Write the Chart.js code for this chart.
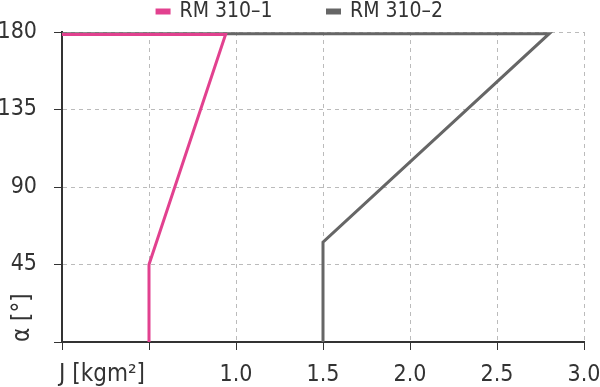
<!DOCTYPE html>
<html>
<head>
<meta charset="utf-8">
<script src="https://cdn.jsdelivr.net/npm/chart.js@4"></script>
<style>
  html, body { margin: 0; padding: 0; background: #fff; }
  #wrap { width: 600px; height: 387px; }
</style>
</head>
<body>
<div id="wrap"><canvas id="myChart" width="600" height="387"></canvas></div>
<script>
// series values: J [kgm²] vs α [°]
const seriesNames = ["RM 310–1", "RM 310–2"];
const rm1J = [0.5, 0.5, 0.94, 0];
const rm1Alpha = [0, 45, 178.5, 178.5];
const rm2J = [1.5, 1.5, 2.8, 0];
const rm2Alpha = [0, 58, 179, 179];

// axis ticks
const xTicks = [0, 0.5, 1.0, 1.5, 2.0, 2.5, 3.0];
const yTicks = [0, 45, 90, 135, 180];
const xTitle = "J [kgm²]";
const yTitle = "α [°]";

const pink = "#e2418f";
const gray = "#666666";
const font = "'Liberation Sans Narrow', 'DejaVu Sans Condensed', sans-serif";

const toPoints = (xs, ys) => xs.map((x, i) => ({ x: x, y: ys[i] }));

// draws the two axis titles where the first tick labels would be
const axisTitles = {
  id: "axisTitles",
  afterDraw(chart) {
    const ctx = chart.ctx;
    const xs = chart.scales.x;
    const ys = chart.scales.y;
    ctx.save();
    ctx.fillStyle = "#333";
    ctx.font = "24px " + font;
    ctx.textAlign = "center";
    ctx.textBaseline = "middle";
    ctx.fillText(xTitle, xs.getPixelForValue(0.23), 375);
    ctx.translate(23, ys.getPixelForValue(0));
    ctx.rotate(-Math.PI / 2);
    ctx.textAlign = "left";
    ctx.fillText(yTitle, 0, 0);
    ctx.restore();
  },
};

const ctx = document.getElementById("myChart").getContext("2d");
const myChart = new Chart(ctx, {
  type: "scatter",
  data: {
    datasets: [
      {
        label: seriesNames[0],
        data: toPoints(rm1J, rm1Alpha),
        borderColor: pink,
        backgroundColor: pink,
      },
      {
        label: seriesNames[1],
        data: toPoints(rm2J, rm2Alpha),
        borderColor: gray,
        backgroundColor: gray,
      },
    ],
  },
  options: {
    responsive: false,
    animation: false,
    // legend padding is wide for the item gap, so pull it up
    layout: { padding: { top: -54, left: 0, right: 0, bottom: 0 } },
    elements: {
      point: { radius: 0, hoverRadius: 0 },
      line: { borderWidth: 3, borderJoinStyle: "miter", tension: 0 },
    },
    datasets: { scatter: { showLine: true, clip: false } },
    plugins: {
      tooltip: { enabled: false },
      legend: {
        position: "top",
        labels: {
          boxWidth: 12,
          boxHeight: 3,
          padding: 55,
          color: "#333",
          font: { family: font, size: 21 },
        },
      },
    },
    scales: {
      x: {
        type: "linear",
        min: 0,
        max: 3,
        afterBuildTicks: (scale) => {
          scale.ticks = xTicks.map((v) => ({ value: v }));
        },
        afterFit: (scale) => {
          scale.height = 45;
          scale.paddingRight = 16;
        },
        ticks: {
          color: "#333",
          padding: 11,
          maxRotation: 0,
          font: { family: font, size: 23 },
          callback: (v) => (v < 0.75 ? "" : v.toFixed(1)),
        },
        grid: {
          color: "#bbbbbb",
          tickColor: "#333",
          tickLength: 8,
          tickBorderDash: [],
        },
        border: { color: "#333", width: 2, dash: [4, 4] },
      },
      y: {
        type: "linear",
        min: 0,
        max: 180,
        afterBuildTicks: (scale) => {
          scale.ticks = yTicks.map((v) => ({ value: v }));
        },
        afterFit: (scale) => {
          scale.width = 62;
        },
        ticks: {
          color: "#333",
          padding: 17,
          font: { family: font, size: 23 },
          callback: (v) => (v === 0 ? "" : v),
        },
        grid: {
          color: "#bbbbbb",
          tickColor: "#333",
          tickLength: 8,
          tickBorderDash: [],
        },
        border: { color: "#333", width: 2, dash: [4, 4] },
      },
    },
  },
  plugins: [axisTitles],
});
</script>
</body>
</html>
